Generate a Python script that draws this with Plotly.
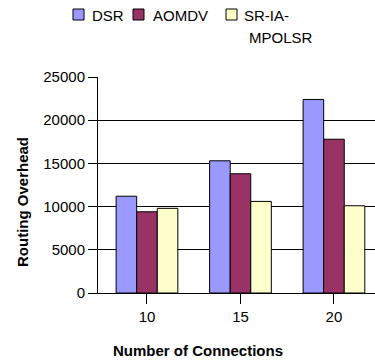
import plotly.graph_objects as go

# Routing overhead per number of connections
connections = ["10", "15", "20"]
dsr = [11200, 15300, 22400]
aomdv = [9400, 13800, 17800]
sr_ia_mpolsr = [9800, 10600, 10100]
y_ticks = [0, 5000, 10000, 15000, 20000, 25000]

series_names = ["DSR", "AOMDV", "SR-IA-MPOLSR"]
series_values = [dsr, aomdv, sr_ia_mpolsr]
series_colors = ["#9999FF", "#993366", "#FFFFCC"]

FONT = "Liberation Sans, Arial, sans-serif"

# Plot area in pixels (figure is 375 x 362)
L, R, T, B = 98, 0, 77, 69
W, H = 375, 362
PW, PH = W - L - R, H - T - B


def px_x(x):
    return (x - L) / PW


def px_y(y):
    return (H - B - y) / PH


fig = go.Figure()
for name, vals, color in zip(series_names, series_values, series_colors):
    fig.add_trace(go.Bar(
        x=connections, y=vals, name=name,
        marker=dict(color=color, line=dict(color="#000000", width=1)),
    ))

# Legend row across the top: square swatch followed by its label
legend_x = [73, 133, 226]
legend_text = [["DSR"], ["AOMDV"], ["SR-IA-", "MPOLSR"]]
legend_text_dx = [[17], [18], [16, 21]]
shapes, annotations = [], []
for x0, color, lines, dxs in zip(legend_x, series_colors, legend_text, legend_text_dx):
    shapes.append(dict(
        type="rect", xref="paper", yref="paper",
        x0=px_x(x0), x1=px_x(x0 + 11), y0=px_y(20), y1=px_y(9),
        fillcolor=color, line=dict(color="#000000", width=1),
    ))
    for i, (line, dx) in enumerate(zip(lines, dxs)):
        annotations.append(dict(
            text=line, xref="paper", yref="paper",
            x=px_x(x0 + dx), y=px_y(15 + 22 * i),
            xanchor="left", yanchor="middle", showarrow=False,
            font=dict(size=15), xshift=0,
        ))

annotations += [
    dict(text="<b>Routing Overhead</b>", xref="paper", yref="paper",
         x=px_x(22), y=px_y(202), textangle=-90, showarrow=False,
         font=dict(size=15), xanchor="center", yanchor="middle"),
    dict(text="<b>Number of Connections</b>", xref="paper", yref="paper",
         x=px_x(198), y=px_y(350), showarrow=False,
         font=dict(size=15), xanchor="center", yanchor="middle"),
]

fig.update_layout(
    width=W, height=H,
    margin=dict(l=L, r=R, t=T, b=B),
    paper_bgcolor="white", plot_bgcolor="white",
    barmode="group", bargap=0.34, bargroupgap=0,
    font=dict(family=FONT, size=15, color="#000000"),
    showlegend=False,
    xaxis=dict(
        type="category", range=[-0.524, 2.439],
        showline=True, linecolor="#000000", linewidth=1,
        ticks="outside", ticklen=10, tickcolor="#000000",
        showgrid=False, tickfont=dict(size=15),
    ),
    yaxis=dict(
        range=[0, 25000], tickvals=y_ticks, tickformat="d",
        showline=True, linecolor="#000000", linewidth=1,
        ticks="outside", ticklen=9, tickcolor="#000000",
        showgrid=True, gridcolor="#000000", gridwidth=1,
        zeroline=False, tickfont=dict(size=15),
    ),
    shapes=shapes,
    annotations=annotations,
)

fig.write_html("out.html")
